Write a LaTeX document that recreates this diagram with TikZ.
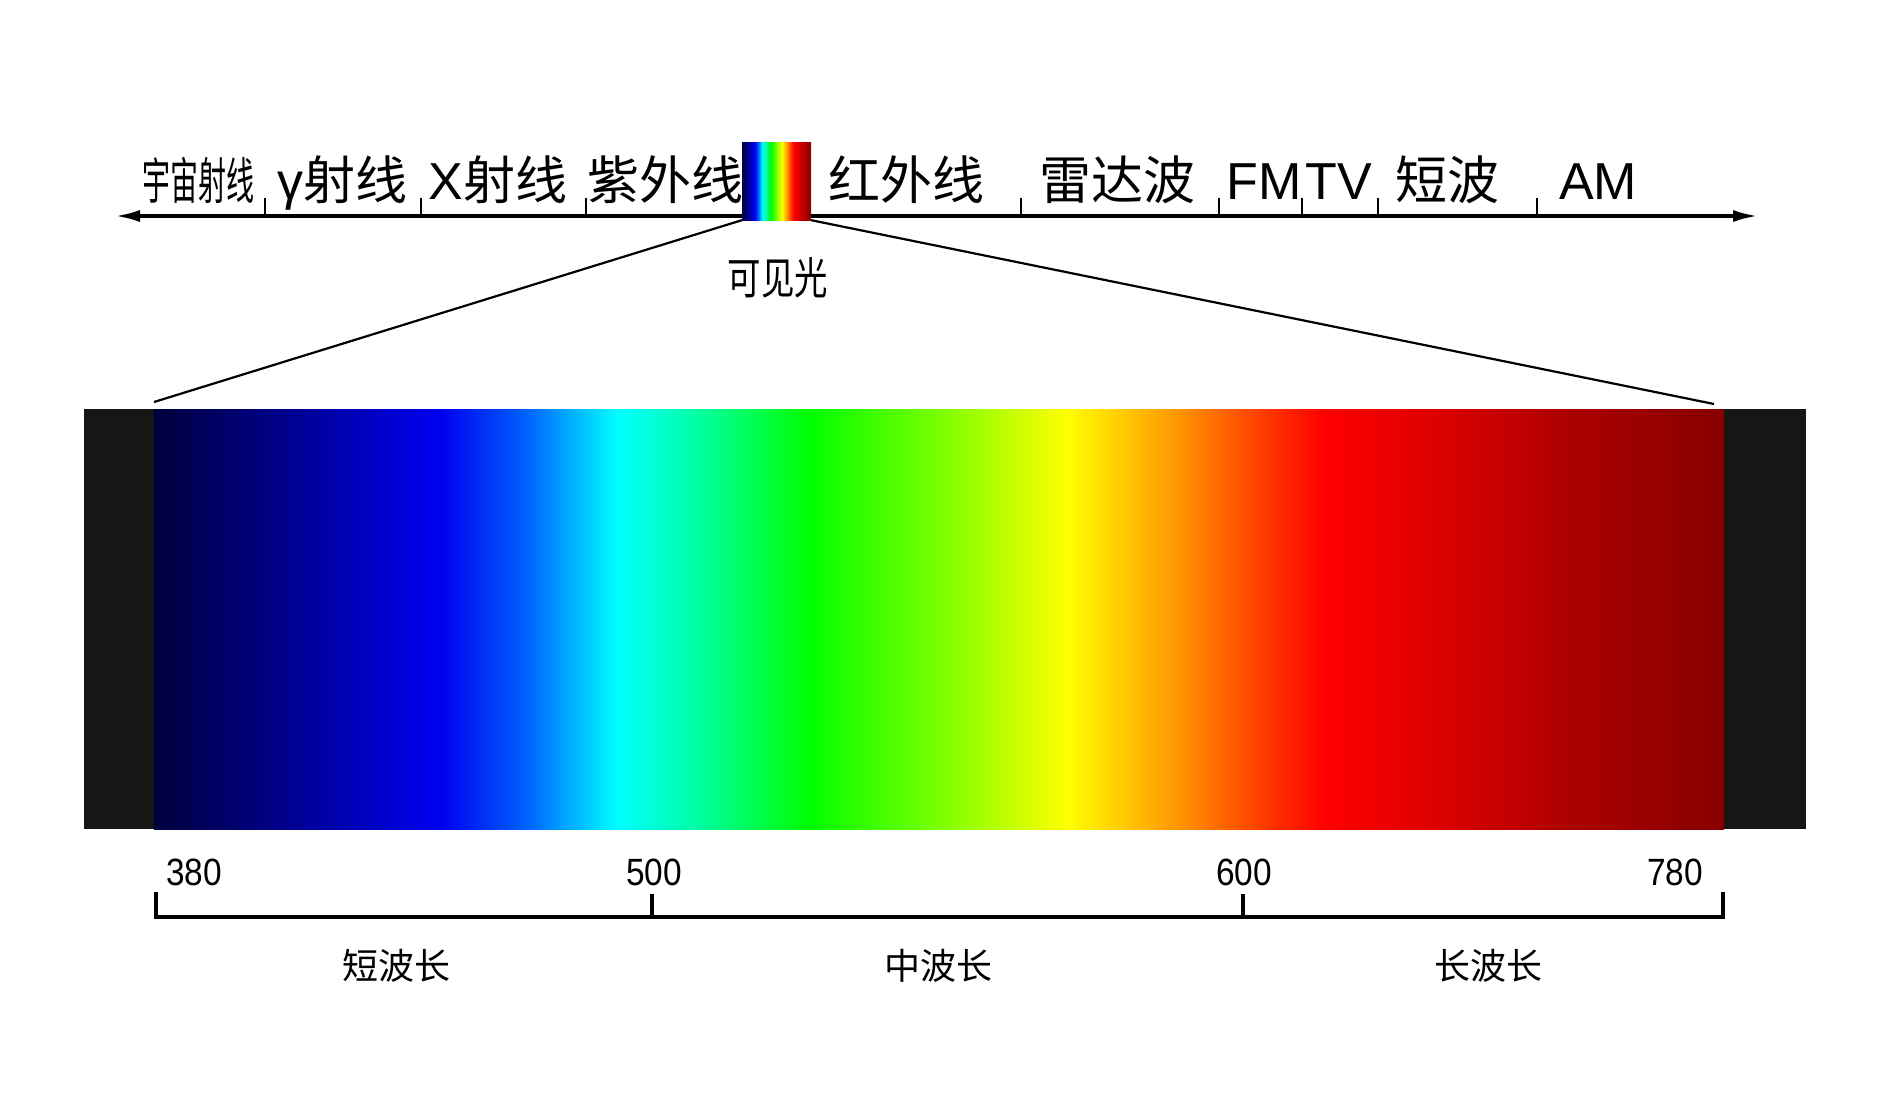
\documentclass[tikz,border=0pt]{standalone}
\usepackage{fontspec}
\setmainfont{Liberation Sans}
\newfontfamily\cjk{Noto Sans CJK SC}
\usetikzlibrary{arrows.meta}

% spectrum colours
\definecolor{sp0}{RGB}{0,0,60}
\definecolor{sp1}{RGB}{0,0,240}
\definecolor{sp2}{RGB}{0,100,255}
\definecolor{sp3}{RGB}{0,255,255}
\definecolor{sp4}{RGB}{0,255,160}
\definecolor{sp5}{RGB}{0,255,0}
\definecolor{sp6}{RGB}{120,255,0}
\definecolor{sp7}{RGB}{255,255,0}
\definecolor{sp8}{RGB}{255,140,0}
\definecolor{sp9}{RGB}{255,70,0}
\definecolor{sp10}{RGB}{255,0,0}
\definecolor{sp11}{RGB}{220,0,0}
\definecolor{sp12}{RGB}{170,0,0}
\definecolor{sp13}{RGB}{135,0,0}
\definecolor{darkend}{RGB}{22,22,20}

\pgfdeclarehorizontalshading{spectrum}{100bp}{color(0bp)=(sp0); color(25bp)=(sp0);
  color(34.15bp)=(sp1); color(36.9bp)=(sp2); color(39.75bp)=(sp3); color(42.4bp)=(sp4);
  color(45.85bp)=(sp5); color(49.9bp)=(sp6); color(54.1bp)=(sp7); color(57.9bp)=(sp8);
  color(59.95bp)=(sp9); color(62.25bp)=(sp10); color(66bp)=(sp11); color(70.3bp)=(sp12);
  color(75bp)=(sp13); color(100bp)=(sp13)}

\begin{document}
\begin{tikzpicture}[x=1pt,y=-1pt,every node/.style={inner sep=0pt}]

% Define styles
\tikzstyle{band} = [rectangle, shade, shading=spectrum, inner sep=0pt]
\tikzstyle{wave} = [anchor=base, font=\fontsize{52}{60}\selectfont]
\tikzstyle{num} = [font=\fontsize{38}{44}\selectfont, xscale=0.88]
\tikzstyle{rangelabel} = [font=\cjk\fontsize{36}{42}\selectfont]
\tikzstyle{axis} = [line width=4pt, {Latex[length=26pt,width=12pt]}-{Latex[length=26pt,width=12pt]}]
\tikzstyle{tick} = [line width=2.5pt]
\tikzstyle{line} = [draw, line width=2.2pt]

\useasboundingbox (0,0) rectangle (1881,1116);

% top scale
\coordinate (left) at (114,216);
\coordinate (right) at (1759,216);
\draw[axis] (left) -- (right);
\foreach \x in {265,421,586,1021,1219,1302,1378,1537}
  \draw[tick] (\x,198) -- (\x,216);

\node[wave, xscale=0.56, font=\cjk\fontsize{50}{60}\selectfont] (cosmic) at (198,199) {宇宙射线};
\node[wave] (gamma) at (342,199) {γ{\cjk 射线}};
\node[wave] (xray) at (498,199) {X{\cjk 射线}};
\node[wave, font=\cjk\fontsize{52}{60}\selectfont] (uv) at (665,199) {紫外线};
\node[wave, font=\cjk\fontsize{52}{60}\selectfont] (ir) at (906,199) {红外线};
\node[wave, font=\cjk\fontsize{52}{60}\selectfont] (radar) at (1117,199) {雷达波};
\node[wave] (fm) at (1264,199) {FM};
\node[wave] (tv) at (1339,199) {TV};
\node[wave, font=\cjk\fontsize{52}{60}\selectfont] (sw) at (1447,199) {短波};
\node[wave] (am) at (1598,199) {AM};

\node[band, minimum width=69pt, minimum height=78pt] (vis) at (776.5,181) {};
\node[font=\cjk\fontsize{44}{50}\selectfont, xscale=0.76] (vislabel) at (778,278) {可见光};

% spectrum
\node[rectangle, fill=darkend, minimum width=1722pt, minimum height=420pt] (spec) at (945,619) {};
\node[band, minimum width=1570pt, minimum height=420pt] (colors) at (939,619) {};

\coordinate (lend) at (154,402);
\coordinate (rend) at (1714,404);
\draw[line] (vis.south west) -- (lend);
\draw[line] (vis.south east) -- (rend);

% wavelength scale
\draw[line width=4pt] (156,892) -- (156,917) -- (1723,917) -- (1723,892);
\draw[line width=4pt] (652,894) -- (652,917);
\draw[line width=4pt] (1243,894) -- (1243,917);

\node[num] (n380) at (194,872) {380};
\node[num] (n500) at (654,872) {500};
\node[num] (n600) at (1244,872) {600};
\node[num] (n780) at (1675,872) {780};

\node[rangelabel] (short) at (396,966) {短波长};
\node[rangelabel] (middle) at (938,966) {中波长};
\node[rangelabel] (long) at (1488,966) {长波长};

\end{tikzpicture}
\end{document}
